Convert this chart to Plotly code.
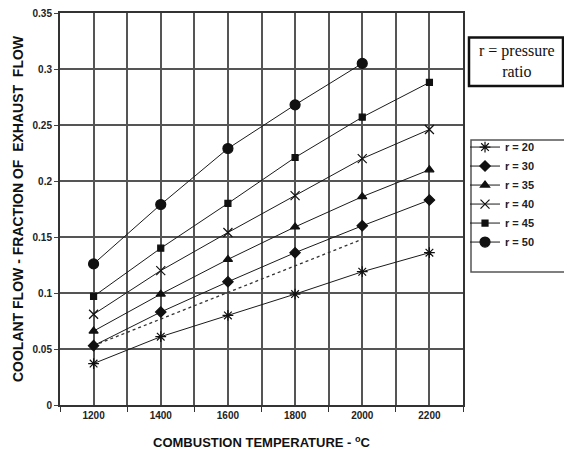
import plotly.graph_objects as go

# Combustion temperature (deg C)
temps = [1200, 1400, 1600, 1800, 2000, 2200]

# Coolant flow as fraction of exhaust flow, per pressure ratio
r20 = [0.037, 0.061, 0.080, 0.099, 0.119, 0.136]
r30 = [0.053, 0.083, 0.110, 0.136, 0.160, 0.183]
r35 = [0.066, 0.099, 0.130, 0.159, 0.186, 0.210]
r40 = [0.081, 0.120, 0.154, 0.187, 0.220, 0.246]
r45 = [0.097, 0.140, 0.180, 0.221, 0.257, 0.288]
r50 = [0.126, 0.179, 0.229, 0.268, 0.305]

# Dotted reference line
ref_temps = [1200, 2000]
ref_vals = [0.053, 0.148]

series = [
    ("r = 20", r20, "asterisk-open", 9),
    ("r = 30", r30, "diamond", 8),
    ("r = 35", r35, "triangle-up", 8),
    ("r = 40", r40, "x-thin-open", 9),
    ("r = 45", r45, "square", 6),
    ("r = 50", r50, "circle", 10),
]

FONT = "Liberation Sans, Arial, sans-serif"
fig = go.Figure()

fig.add_trace(go.Scatter(
    x=ref_temps, y=ref_vals, mode="lines", showlegend=False,
    line=dict(color="#333", width=1.3, dash="dot"), hoverinfo="skip",
))

for name, vals, sym, size in series:
    fig.add_trace(go.Scatter(
        x=temps[:len(vals)], y=vals, name=name, mode="lines+markers",
        line=dict(color="#1a1a1a", width=1),
        marker=dict(symbol=sym, size=size, color="#111",
                    line=dict(color="#111", width=1.2)),
    ))

fig.update_layout(
    width=564, height=468,
    margin=dict(l=60, r=101, t=7, b=63),
    paper_bgcolor="white", plot_bgcolor="white",
    font=dict(family=FONT, size=10, color="#222", weight="bold"),
    showlegend=True,
    legend=dict(
        x=1.005, y=0.695, xanchor="left", yanchor="top",
        bgcolor="rgba(0,0,0,0)", borderwidth=0,
        font=dict(family=FONT, size=11, color="#222", weight="bold"),
        tracegroupgap=0,
    ),
    xaxis=dict(
        range=[1100, 2300], tickvals=temps, ticks="",
        showgrid=True, gridcolor="#555", gridwidth=1.5,
        minor=dict(tick0=1100, dtick=200, showgrid=True, gridcolor="#555",
                   gridwidth=1.5, ticks="outside", ticklen=5, tickcolor="#333"),
        showline=True, linecolor="#333", linewidth=2, mirror=True,
        zeroline=False,
        tickfont=dict(family=FONT, size=10, color="#222", weight="bold"),
        title=dict(text="COMBUSTION TEMPERATURE - <sup>o</sup>C", standoff=18,
                   font=dict(family=FONT, size=13, color="#111", weight="bold")),
    ),
    yaxis=dict(
        range=[0, 0.35], tickvals=[0, 0.05, 0.1, 0.15, 0.2, 0.25, 0.3, 0.35],
        ticktext=["0", "0.05", "0.1", "0.15", "0.2", "0.25", "0.3", "0.35"],
        ticks="outside", ticklen=4, tickcolor="#444",
        showgrid=True, gridcolor="#555", gridwidth=1.5,
        showline=True, linecolor="#333", linewidth=2, mirror=True,
        zeroline=False,
        tickfont=dict(family=FONT, size=10, color="#222", weight="bold"),
        title=dict(text="COOLANT FLOW - FRACTION OF  EXHAUST  FLOW", standoff=6,
                   font=dict(family=FONT, size=14, color="#111", weight="bold")),
    ),
    shapes=[
        # legend frame
        dict(type="rect", xref="paper", yref="paper",
             x0=(471 - 60) / 403, x1=(575 - 60) / 403,
             y0=(405 - 270) / 398, y1=(405 - 136) / 398,
             line=dict(color="#555", width=1.5), fillcolor="rgba(0,0,0,0)"),
        # note frame
        dict(type="rect", xref="paper", yref="paper",
             x0=(469 - 60) / 403, x1=(563 - 60) / 403,
             y0=(405 - 81) / 398, y1=(405 - 32) / 398,
             line=dict(color="#111", width=2.5), fillcolor="white"),
    ],
    annotations=[
        dict(text="r = pressure<br>ratio", xref="paper", yref="paper",
             x=(517 - 60) / 403, y=(405 - 56) / 398, showarrow=False,
             xanchor="center", yanchor="middle", align="center",
             font=dict(family="Liberation Serif, Times New Roman, serif",
                       size=16, color="#111", weight="normal")),
    ],
)

fig.write_html("out.html")
